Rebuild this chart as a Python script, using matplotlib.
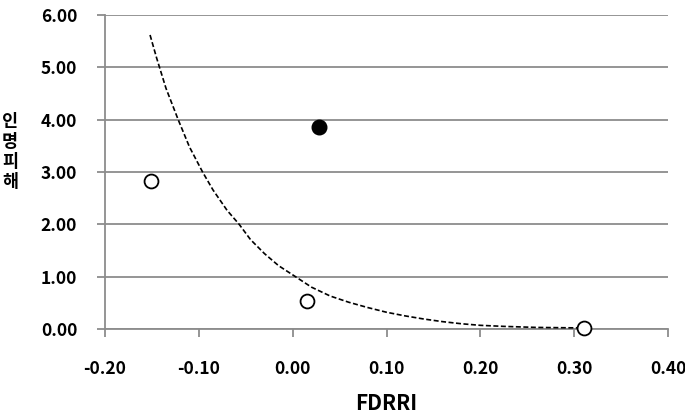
import matplotlib
matplotlib.use("Agg")
import matplotlib.pyplot as plt

# data
open_x = [-0.151, 0.015, 0.310]
open_y = [2.82, 0.53, 0.02]
filled_x = [0.028]
filled_y = [3.86]
# dashed trend curve
trend_x = [-0.152, -0.145, -0.135, -0.122, -0.11, -0.096, -0.085, -0.07, -0.057,
           -0.045, -0.03, -0.015, 0.003, 0.02, 0.04, 0.06, 0.08, 0.10, 0.12,
           0.14, 0.16, 0.18, 0.20, 0.225, 0.26, 0.31]
trend_y = [5.62, 5.18, 4.6, 4.0, 3.48, 3.0, 2.66, 2.27, 2.0,
           1.71, 1.44, 1.21, 1.0, 0.80, 0.63, 0.51, 0.41, 0.32, 0.25,
           0.19, 0.14, 0.10, 0.07, 0.05, 0.03, 0.02]
xticks = [-0.20, -0.10, 0.00, 0.10, 0.20, 0.30, 0.40]
yticks = [0.0, 1.0, 2.0, 3.0, 4.0, 5.0, 6.0]
xlabel = "FDRRI"
ylabel = "인명피해"

FONT = ["Noto Sans CJK KR", "DejaVu Sans"]

fig = plt.figure(figsize=(6.85, 4.19), dpi=100)
ax = fig.add_axes([0.1533, 0.2148, 0.9752 - 0.1533, 0.964 - 0.2148])
grid_c = "#8c8c8c"
tick_font = dict(fontsize=12.5, fontweight="bold", family=FONT)
ax.set_xlim(-0.20, 0.40)
ax.set_ylim(0, 6)
ax.set_xticks(xticks)
ax.set_yticks(yticks)
ax.set_xticklabels([f"{v:.2f}" for v in xticks], **tick_font)
ax.set_yticklabels([f"{v:.2f}" for v in yticks], **tick_font)
ax.yaxis.grid(True, color=grid_c, linewidth=1.3)
ax.set_axisbelow(True)
for s in ["top", "right"]:
    ax.spines[s].set_visible(False)
for s in ["left", "bottom"]:
    ax.spines[s].set_color(grid_c)
    ax.spines[s].set_linewidth(1.3)
ax.tick_params(axis="both", color=grid_c, width=1.3, length=6, direction="out")
ax.tick_params(axis="y", pad=14)
ax.tick_params(axis="x", pad=16)

ax.plot(trend_x, trend_y, color="black", linestyle=(0, (3, 1.5)), linewidth=1.2, zorder=3)
ax.plot(open_x, open_y, linestyle="none", marker="o", markersize=10,
        markerfacecolor="white", markeredgecolor="black", markeredgewidth=1.3, zorder=4, clip_on=False)
ax.plot(filled_x, filled_y, linestyle="none", marker="o", markersize=10.5,
        markerfacecolor="black", markeredgecolor="black", zorder=4)

ax.set_xlabel(xlabel, fontsize=15, fontweight="bold", family=FONT, labelpad=11)
fig.text(10 / 685, 1 - 152 / 419, "\n".join(ylabel), ha="center", va="center",
         fontsize=12.5, fontweight="bold", family=FONT, linespacing=1.15)

fig.savefig("out.png", dpi=100)
